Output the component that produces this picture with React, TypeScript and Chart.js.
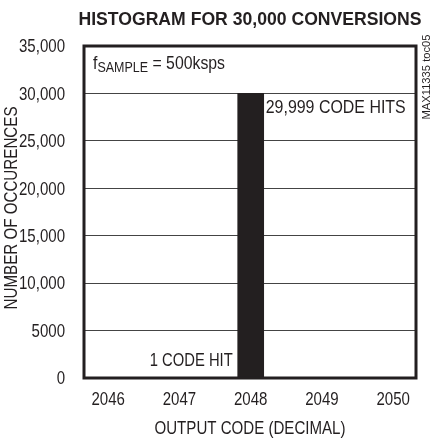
import React, { useEffect, useRef } from "react";
import { Chart, registerables } from "chart.js";

Chart.register(...registerables);

const codes = [2046, 2047, 2048, 2049, 2050];
const hits = [0, 1, 29999, 0, 0];
const yTicks = [0, 5000, 10000, 15000, 20000, 25000, 30000, 35000];
const titleText = "HISTOGRAM FOR 30,000 CONVERSIONS";
const xTitle = "OUTPUT CODE (DECIMAL)";
const yTitle = "NUMBER OF OCCURENCES";
const bigLabel = "29,999 CODE HITS";
const smallLabel = "1 CODE HIT";
const tocLabel = "MAX11335 toc05";

const FONT = "'Liberation Sans', Arial, sans-serif";
const INK = "#231f20";

function fmtY(v: number) {
  return v >= 10000 ? v.toLocaleString("en-US") : String(v);
}

function drawText(ctx: any, text: string, x: number, y: number, font: string, sx: number, align: string, rot = 0) {
  ctx.save();
  ctx.font = font;
  ctx.textAlign = align;
  ctx.textBaseline = "middle";
  ctx.translate(x, y);
  if (rot) ctx.rotate(rot);
  ctx.scale(sx, 1);
  ctx.fillText(text, 0, 0);
  ctx.restore();
}

function measure(ctx: any, text: string, font: string) {
  ctx.save();
  ctx.font = font;
  const w = ctx.measureText(text).width;
  ctx.restore();
  return w;
}

function fitScale(ctx: any, text: string, font: string, width: number) {
  return width / measure(ctx, text, font);
}

export default function App() {
  const ref = useRef<HTMLCanvasElement | null>(null);

  useEffect(() => {
    document.body.style.margin = "0";
    const canvas = ref.current;
    if (!canvas) return;

    const textPlugin = {
      id: "texts",
      afterDraw(chart: any) {
        const { ctx, chartArea } = chart;
        const xs = chart.scales.x;
        const ys = chart.scales.y;
        const cx = (chartArea.left + chartArea.right) / 2;
        ctx.save();
        ctx.strokeStyle = INK;
        ctx.lineWidth = 3;
        ctx.strokeRect(chartArea.left, chartArea.top, chartArea.right - chartArea.left, chartArea.bottom - chartArea.top);
        ctx.fillStyle = INK;

        const f19 = `19px ${FONT}`;
        const tickSx = fitScale(ctx, "35,000", f19, 46);

        ys.ticks.forEach((t: any) => {
          drawText(ctx, fmtY(t.value), chartArea.left - 19, ys.getPixelForValue(t.value) + 1, f19, tickSx, "right");
        });
        xs.ticks.forEach((t: any) => {
          drawText(ctx, String(t.value), xs.getPixelForValue(t.value), chartArea.bottom + 22, f19, tickSx, "center");
        });

        const tf = `bold 19px ${FONT}`;
        drawText(ctx, titleText, cx, 20, tf, fitScale(ctx, titleText, tf, 343), "center");

        drawText(ctx, xTitle, cx, 429, f19, fitScale(ctx, xTitle, f19, 191), "center");
        drawText(ctx, yTitle, 12, 208, f19, fitScale(ctx, yTitle, f19, 203), "center", -Math.PI / 2);

        const f11 = `11px ${FONT}`;
        drawText(ctx, tocLabel, 427, 77, f11, fitScale(ctx, tocLabel, f11, 85), "center", -Math.PI / 2);

        const bx = xs.getPixelForValue(codes[2]);
        drawText(ctx, bigLabel, bx + 15, ys.getPixelForValue(28500), f19, fitScale(ctx, bigLabel, f19, 140), "left");
        drawText(ctx, smallLabel, bx - 18, ys.getPixelForValue(1800), f19, fitScale(ctx, smallLabel, f19, 83), "right");

        // f_SAMPLE = 500ksps, total width ~132px
        const fx = chartArea.left + 9;
        const fy = 64;
        const f15 = `15px ${FONT}`;
        const raw = measure(ctx, "f", f19) + measure(ctx, "SAMPLE", f15) + measure(ctx, " = 500ksps", f19);
        const s = 132 / raw;
        const w1 = measure(ctx, "f", f19) * s;
        const w2 = measure(ctx, "SAMPLE", f15) * s;
        drawText(ctx, "f", fx, fy, f19, s, "left");
        drawText(ctx, "SAMPLE", fx + w1, fy + 4, f15, s, "left");
        drawText(ctx, " = 500ksps", fx + w1 + w2, fy, f19, s, "left");
        ctx.restore();
      },
    };

    const chart = new Chart(canvas, {
      type: "bar",
      data: {
        datasets: [
          {
            data: codes.map((c, i) => ({ x: c, y: hits[i] })),
            backgroundColor: INK,
            borderWidth: 0,
            barThickness: 26,
          },
        ],
      },
      options: {
        animation: false,
        responsive: false,
        maintainAspectRatio: false,
        layout: { padding: { left: 0, right: 15, top: 46, bottom: 0 } },
        plugins: {
          legend: { display: false },
          title: { display: false },
          tooltip: { enabled: false },
        },
        scales: {
          x: {
            type: "linear",
            offset: false,
            min: 2045.66,
            max: 2050.32,
            grid: { display: false, drawTicks: false },
            border: { display: false },
            afterBuildTicks: (scale: any) => {
              scale.ticks = codes.map((v) => ({ value: v }));
            },
            afterFit: (scale: any) => {
              scale.height = 63;
            },
            ticks: { display: false },
          },
          y: {
            min: 0,
            max: 35000,
            grid: { color: "#444", lineWidth: 1, drawTicks: false },
            border: { display: false },
            afterBuildTicks: (scale: any) => {
              scale.ticks = yTicks.map((v) => ({ value: v }));
            },
            afterFit: (scale: any) => {
              scale.width = 84;
            },
            ticks: { display: false },
          },
        },
      },
      plugins: [textPlugin],
    } as any);

    return () => chart.destroy();
  }, []);

  return (
    <div style={{ width: 431, height: 441 }}>
      <canvas ref={ref} width={431} height={441} style={{ width: 431, height: 441, display: "block" }} />
    </div>
  );
}
